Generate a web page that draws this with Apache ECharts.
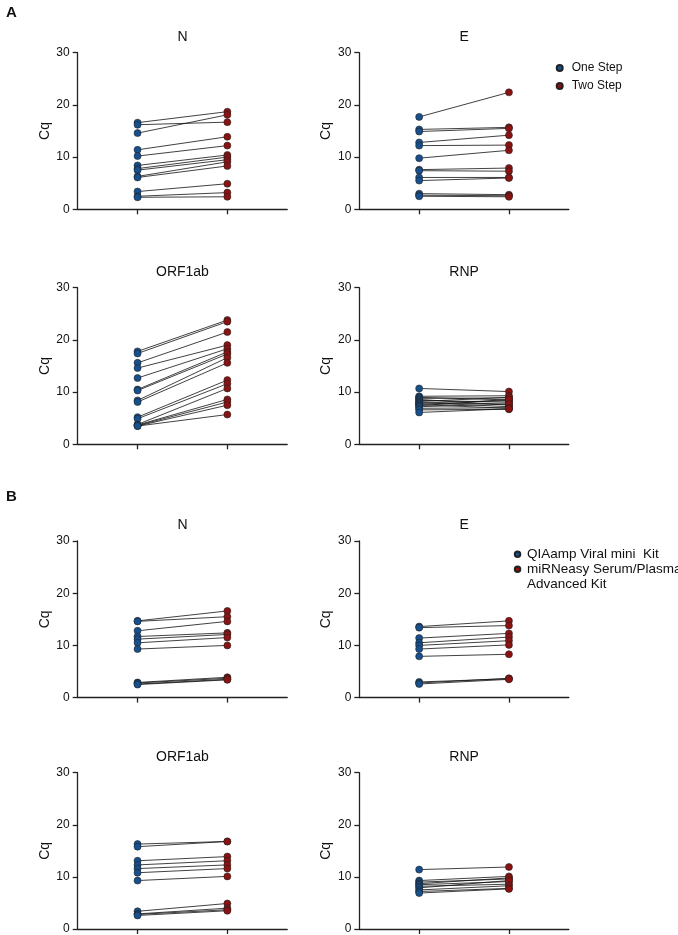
<!DOCTYPE html>
<html>
<head>
<meta charset="utf-8">
<script src="https://cdn.jsdelivr.net/npm/echarts@6/dist/echarts.min.js"></script>
<style>
  html, body { margin: 0; padding: 0; background: #fff; }
  #chart { width: 678px; height: 935px; }
</style>
</head>
<body>
<div id="chart"></div>
<script>
// labels
const genes = ['N', 'E', 'ORF1ab', 'RNP'];
const legendA = ['One Step', 'Two Step'];
const legendB = ['QIAamp Viral mini  Kit', 'miRNeasy Serum/Plasma\nAdvanced Kit'];
const yTicks = [0, 10, 20, 30];

// A: one step (left) vs two step (right), paired by sample
const aN1 = [16.6, 16.2, 14.6, 11.4, 10.2, 8.4, 7.8, 7.5, 6.3, 6.1, 3.4, 2.5, 2.3];
const aN2 = [18.7, 16.7, 18.1, 13.9, 12.2, 10.4, 10.0, 9.5, 9.1, 8.3, 4.9, 3.2, 2.4];
const aE1 = [17.7, 15.3, 14.9, 12.8, 12.2, 9.8, 7.6, 7.4, 6.1, 5.5, 3.0, 2.7, 2.5];
const aE2 = [22.4, 15.7, 15.5, 14.2, 12.3, 11.3, 7.9, 7.3, 6.1, 6.0, 2.8, 2.6, 2.4];
const aO1 = [17.8, 17.4, 15.6, 14.6, 12.7, 10.5, 10.3, 8.4, 8.1, 5.2, 4.9, 3.8, 3.7, 3.6, 3.5, 3.5];
const aO2 = [23.8, 23.5, 21.5, 19.0, 18.3, 17.7, 17.3, 16.6, 15.6, 12.3, 11.6, 10.7, 8.6, 8.1, 7.5, 5.7];
const aR1 = [10.7, 9.2, 9.0, 8.8, 8.6, 8.4, 8.2, 8.0, 7.9, 7.7, 7.6, 7.4, 7.2, 6.9, 6.6, 6.1];
const aR2 = [10.1, 9.3, 8.5, 8.9, 7.5, 8.1, 9.0, 7.2, 8.4, 7.9, 6.9, 8.6, 7.7, 7.0, 6.7, 6.8];

// B: QIAamp (left) vs miRNeasy (right)
const bN1 = [14.7, 14.6, 12.8, 11.7, 11.2, 10.5, 9.3, 2.9, 2.8, 2.6, 2.5];
const bN2 = [16.6, 15.5, 14.6, 12.4, 12.1, 11.5, 10.0, 3.9, 3.7, 3.5, 3.4];
const bE1 = [13.6, 13.4, 11.4, 10.5, 10.0, 9.3, 7.9, 3.0, 2.8, 2.6];
const bE2 = [14.7, 13.8, 12.3, 11.6, 10.9, 10.1, 8.3, 3.6, 3.7, 3.5];
const bO1 = [16.3, 15.8, 13.1, 12.3, 11.6, 10.8, 9.3, 3.4, 2.9, 2.8, 2.6];
const bO2 = [16.8, 16.8, 13.9, 13.1, 12.3, 11.6, 10.1, 4.9, 4.0, 3.7, 3.5];
const bR1 = [11.4, 9.3, 9.0, 8.7, 8.5, 8.2, 7.9, 7.5, 7.2, 6.9];
const bR2 = [11.9, 10.1, 9.6, 9.8, 9.1, 8.6, 9.3, 8.3, 7.8, 7.7];

const BLUE = '#16508f';
const RED = '#8c1111';
const AXIS = '#222';
const FONT = 'Liberation Sans, Arial, Helvetica, sans-serif';

const panels = [
  { title: genes[0], one: aN1, two: aN2, names: legendA, left: 77.7, top: 52.7 },
  { title: genes[1], one: aE1, two: aE2, names: legendA, left: 359.3, top: 52.7 },
  { title: genes[2], one: aO1, two: aO2, names: legendA, left: 77.7, top: 287.7 },
  { title: genes[3], one: aR1, two: aR2, names: legendA, left: 359.3, top: 287.7 },
  { title: genes[0], one: bN1, two: bN2, names: legendB, left: 77.7, top: 541 },
  { title: genes[1], one: bE1, two: bE2, names: legendB, left: 359.3, top: 541 },
  { title: genes[2], one: bO1, two: bO2, names: legendB, left: 77.7, top: 772.7 },
  { title: genes[3], one: bR1, two: bR2, names: legendB, left: 359.3, top: 772.7 }
];
const GW = 209.5, GH = 156.6;

let grid = [], xAxis = [], yAxis = [], series = [];
let title = [
  { text: 'A', left: 6, top: 5, padding: 0, textStyle: { fontSize: 15, fontWeight: 'bold', color: '#111', fontFamily: FONT } },
  { text: 'B', left: 6, top: 489, padding: 0, textStyle: { fontSize: 15, fontWeight: 'bold', color: '#111', fontFamily: FONT } }
];

panels.forEach((p, i) => {
  grid.push({ left: p.left, top: p.top, width: GW, height: GH });
  title.push({
    text: p.title, left: p.left + GW / 2, top: p.top - 23, textAlign: 'center', padding: 0,
    textStyle: { fontSize: 14, fontWeight: 'normal', color: '#111', fontFamily: FONT }
  });
  xAxis.push({
    gridIndex: i, type: 'value', min: 1 / 3, max: 8 / 3,
    axisLine: { show: true, onZero: false, lineStyle: { color: AXIS, width: 1.3 } },
    axisTick: { show: true, customValues: [1, 2], length: 5, lineStyle: { color: AXIS, width: 1.3 } },
    axisLabel: { show: false },
    splitLine: { show: false }
  });
  yAxis.push({
    gridIndex: i, type: 'value', min: yTicks[0], max: yTicks[yTicks.length - 1], interval: 10,
    name: 'Cq', nameLocation: 'middle', nameGap: 26,
    nameTextStyle: { fontSize: 14, color: '#111', fontFamily: FONT },
    axisLine: { show: true, lineStyle: { color: AXIS, width: 1.3 } },
    axisTick: { show: true, length: 5, lineStyle: { color: AXIS, width: 1.3 } },
    axisLabel: { fontSize: 12, color: '#111', margin: 8, fontFamily: FONT },
    splitLine: { show: false }
  });
  p.one.forEach((v, k) => {
    series.push({
      type: 'line', xAxisIndex: i, yAxisIndex: i, silent: true, z: 2,
      symbol: 'none', lineStyle: { color: '#111', width: 0.8 },
      data: [[1, v], [2, p.two[k]]]
    });
  });
  series.push({
    type: 'scatter', name: p.names[0], xAxisIndex: i, yAxisIndex: i, z: 3,
    symbolSize: 7, itemStyle: { color: BLUE, borderColor: '#222', borderWidth: 0.6, opacity: 1 },
    data: p.one.map(v => [1, v])
  });
  series.push({
    type: 'scatter', name: p.names[1], xAxisIndex: i, yAxisIndex: i, z: 3,
    symbolSize: 7, itemStyle: { color: RED, borderColor: '#222', borderWidth: 0.6, opacity: 1 },
    data: p.two.map(v => [2, v])
  });
});

const chart = echarts.init(document.getElementById('chart'));
chart.setOption({
  animation: false,
  backgroundColor: '#fff',
  textStyle: { fontFamily: FONT },
  title: title,
  legend: [
    {
      data: legendA, orient: 'vertical', left: 555.7, top: 62, padding: 0, itemGap: 6,
      itemWidth: 14, itemHeight: 6, icon: 'circle',
      textStyle: { fontSize: 12, color: '#111', fontFamily: FONT }
    },
    {
      data: legendB, orient: 'vertical', left: 513.8, top: 546.8, padding: 0, itemGap: -15,
      itemWidth: 9, itemHeight: 5.5, icon: 'circle',
      // leading blank line keeps the first line of the wrapped name level with its dot
      formatter: name => (name.indexOf('\n') >= 0 ? '\n' + name : name),
      textStyle: { fontSize: 13.5, lineHeight: 15, color: '#111', fontFamily: FONT }
    }
  ],
  grid: grid,
  xAxis: xAxis,
  yAxis: yAxis,
  series: series
});
</script>
</body>
</html>
